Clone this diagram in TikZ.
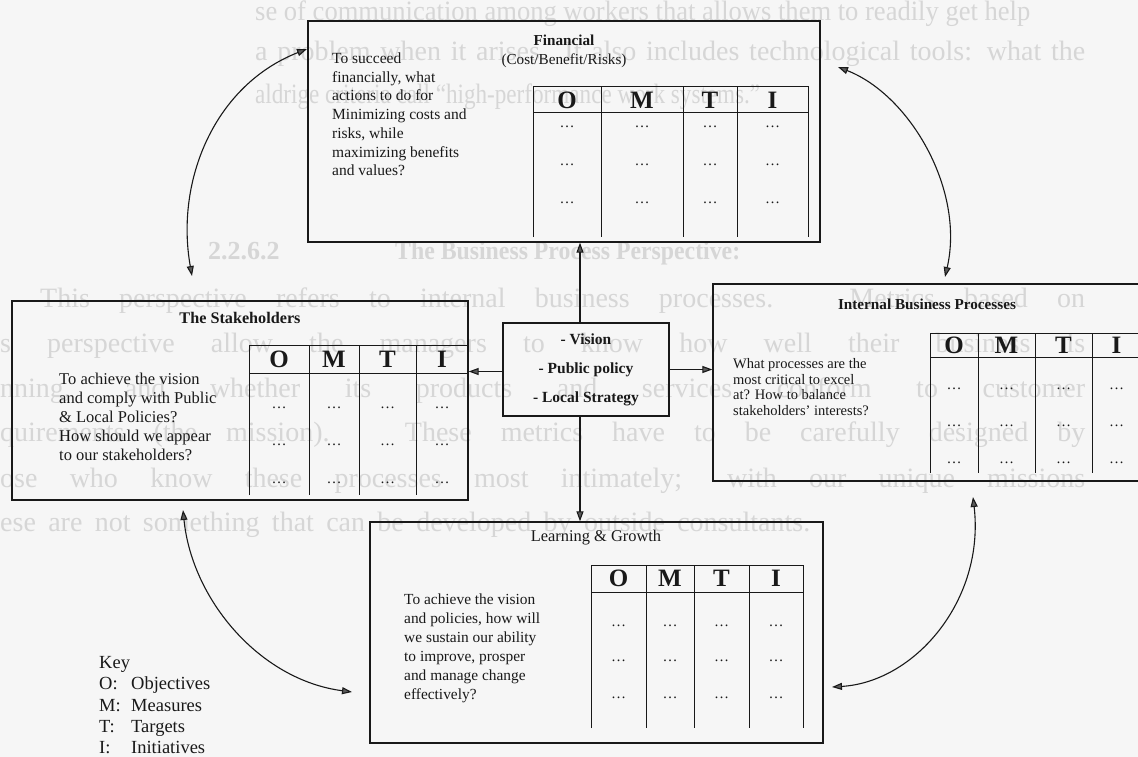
\documentclass[tikz,border=0pt]{standalone}
\usepackage{fontspec}
\setmainfont{Liberation Serif}
\usepackage{graphicx}
\usetikzlibrary{arrows.meta}
\definecolor{bgc}{RGB}{246,246,246}
\definecolor{ghostc}{RGB}{214,214,214}
\definecolor{ink}{RGB}{25,25,25}
\definecolor{tipc}{RGB}{90,90,90}
\newsavebox\ghbox
\newcommand\ghostln[2]{\sbox\ghbox{#2}\ifdim\wd\ghbox>#1\relax\resizebox{#1}{\height}{\usebox\ghbox}\else\makebox[#1][s]{#2}\fi}
\def\omtiparseX#1,#2,#3,#4,#5\relax{\def\oxa{#1}\def\oxb{#2}\def\oxc{#3}\def\oxd{#4}\def\oxe{#5}}
\def\omtiparseY#1,#2,#3\relax{\def\oya{#1}\def\oyb{#2}\def\oyc{#3}}
\newcommand\omtitab[4]{%
  \omtiparseX#2\relax\omtiparseY#3\relax
  \draw[tline] (\oxa,\oyc) -- (\oxa,\oya) -- (\oxe,\oya) -- (\oxe,\oyc);
  \draw[tline] (\oxa,\oyb) -- (\oxe,\oyb);
  \foreach \cx in {\oxb,\oxc,\oxd} \draw[tline] (\cx,\oya) -- (\cx,\oyc);
  \node[hdr] (#1-O) at ({(\oxa+\oxb)/2},{(\oya+\oyb)/2}) {O};
  \node[hdr] (#1-M) at ({(\oxb+\oxc)/2},{(\oya+\oyb)/2}) {M};
  \node[hdr] (#1-T) at ({(\oxc+\oxd)/2},{(\oya+\oyb)/2}) {T};
  \node[hdr] (#1-I) at ({(\oxd+\oxe)/2},{(\oya+\oyb)/2}) {I};
  \foreach \ry [count=\ri] in {#4} {
    \node[cdots] (#1-r\ri a) at ({(\oxa+\oxb)/2},\ry+1) {…};
    \node[cdots] (#1-r\ri b) at ({(\oxb+\oxc)/2},\ry+1) {…};
    \node[cdots] (#1-r\ri c) at ({(\oxc+\oxd)/2},\ry+1) {…};
    \node[cdots] (#1-r\ri d) at ({(\oxd+\oxe)/2},\ry+1) {…};
  }%
}
\begin{document}
\begin{tikzpicture}[x=1pt,y=-1pt,
  panel/.style={draw=ink,line width=1.3pt,inner sep=0pt},
  tline/.style={draw=ink,line width=1pt},
  hdr/.style={font=\bfseries\fontsize{25}{25}\selectfont,inner sep=0pt,text=ink},
  cdots/.style={font=\fontsize{15}{15}\selectfont,inner sep=0pt,anchor=base,text=ink},
  txt/.style={align=left,inner sep=0pt,text=ink,anchor=north west},
  ttl/.style={inner sep=0pt,text=ink},
  ghost/.style={inner sep=0pt,anchor=base west,text=ghostc,font=\fontsize{28}{28}\selectfont},
  conn/.style={draw=ink,line width=1.1pt,-{Triangle[length=10pt,width=7pt,fill=tipc]}},
  dconn/.style={draw=ink,line width=1.1pt,{Triangle[length=10pt,width=7pt,fill=tipc]}-{Triangle[length=10pt,width=7pt,fill=tipc]}},
]
\useasboundingbox (0,0) rectangle (1138,757);
\fill[bgc] (0,0) rectangle (1138,757);
\clip (0,0) rectangle (1138,757);

% faint show-through text of the page
\node[ghost] (g1) at (255,21) {\ghostln{775pt}{se of communication among workers that allows them to readily get help}};
\node[ghost] (g2) at (255,61) {\ghostln{830pt}{a problem when it arises. It also includes technological tools: what the}};
\node[ghost] (g3) at (255,104) {\ghostln{505pt}{aldrige criteria call “high-performance work systems.”}};
\node[ghost,font=\bfseries\fontsize{26}{26}\selectfont] (g4a) at (208,259) {2.2.6.2};
\node[ghost,font=\bfseries\fontsize{26}{26}\selectfont] (g4b) at (395,259) {\ghostln{345pt}{The Business Process Perspective:}};
\node[ghost] (g5) at (40,307) {\ghostln{1045pt}{This perspective refers to internal business processes. Metrics based on}};
\node[ghost] (g6) at (0,352) {\ghostln{1085pt}{s perspective allow the managers to know how well their business is}};
\node[ghost] (g7) at (0,397) {\ghostln{1085pt}{nning, and whether its products and services conform to customer}};
\node[ghost] (g8) at (0,441) {\ghostln{1085pt}{quirements (the mission). These metrics have to be carefully designed by}};
\node[ghost] (g9) at (0,487) {\ghostln{1085pt}{ose who know these processes most intimately; with our unique missions}};
\node[ghost] (g10) at (0,531) {\ghostln{810pt}{ese are not something that can be developed by outside consultants.}};

% panels
\node[panel,minimum width=512pt,minimum height=221pt] (fin) at (564,131.5) {};
\node[panel,minimum width=456pt,minimum height=199pt] (stk) at (240,400.5) {};
\node[panel,minimum width=428pt,minimum height=197pt] (ibp) at (927,382.5) {};
\node[panel,minimum width=453pt,minimum height=221pt] (lg) at (596.5,632.5) {};
\node[panel,minimum width=166pt,minimum height=93pt,align=center,
      font=\bfseries\fontsize{15.5}{29}\selectfont,text=ink] (vis) at (586,369.5)
      {- Vision\\- Public policy\\- Local Strategy};

% titles
\node[ttl,align=center,font=\fontsize{15.2}{19}\selectfont] (fintitle) at (564,51) {\textbf{Financial}\\(Cost/Benefit/Risks)};
\node[ttl,font=\bfseries\fontsize{16.2}{19}\selectfont] (stktitle) at (240,318) {The Stakeholders};
\node[ttl,font=\bfseries\fontsize{15.2}{18}\selectfont] (ibptitle) at (927,304) {Internal Business Processes};
\node[ttl,font=\fontsize{16.4}{19}\selectfont] (lgtitle) at (596,538) {Learning \& Growth};

% body texts
\node[txt,font=\fontsize{15.5}{18.7}\selectfont] (fintxt) at (332,52.6)
  {To succeed\\financially, what\\actions to do for\\Minimizing costs and\\risks, while\\maximizing benefits\\and values?};
\node[txt,font=\fontsize{16.5}{19}\selectfont] (stktxt) at (59,372.5)
  {To achieve the vision\\and comply with Public\\\& Local Policies?\\How should we appear\\to our stakeholders?};
\node[txt,font=\fontsize{14.5}{15.6}\selectfont] (ibptxt) at (733,358.5)
  {What processes are the\\most critical to excel\\at? How to balance\\stakeholders’ interests?};
\node[txt,font=\fontsize{15.4}{19}\selectfont] (lgtxt) at (404,593.6)
  {To achieve the vision\\and policies, how will\\we sustain our ability\\to improve, prosper\\and manage change\\effectively?};

% tables
\omtitab{fint}{533,601,683,737,808}{87,113,237}{127,165,202}
\omtitab{stkt}{249,309,359,416,468}{345,373,495}{407,444,482}
\omtitab{ibpt}{930,978,1035,1092,1141}{333,357,473}{388,425,462}
\omtitab{lgt}{591,646,694,749,803}{565,592,728}{625,660,697}

% key
\node[txt,font=\fontsize{18.5}{21.3}\selectfont] (key) at (99,656.3)
  {Key\\\makebox[32pt][l]{O:}Objectives\\\makebox[32pt][l]{M:}Measures\\\makebox[32pt][l]{T:}Targets\\\makebox[32pt][l]{I:}Initiatives};

% straight connectors from the centre box
\draw[conn] ([xshift=-6pt]vis.north) -- ([xshift=-6pt]vis.north |- fin.south);
\draw[conn] ([xshift=-6pt]vis.south) -- ([xshift=-6pt]vis.south |- lg.north);
\draw[conn] ([yshift=-2pt]vis.west) -- ([yshift=-2pt]vis.west -| stk.east);
\draw[conn] (vis.east) -- (vis.east -| ibp.west);

% curved double arrows
\coordinate (c1a) at (307,49);  \coordinate (c1b) at (192,276);
\coordinate (c2a) at (838,67);  \coordinate (c2b) at (945,277);
\coordinate (c3a) at (973,497); \coordinate (c3b) at (832,687);
\coordinate (c4a) at (183,510); \coordinate (c4b) at (352,692);
\draw[dconn] (c1a) .. controls (215,85) and (175,180) .. (c1b);
\draw[dconn] (c2a) .. controls (910,95) and (965,190) .. (c2b);
\draw[dconn] (c3a) .. controls (985,600) and (915,682) .. (c3b);
\draw[dconn] (c4a) .. controls (192,600) and (260,680) .. (c4b);
\end{tikzpicture}
\end{document}
